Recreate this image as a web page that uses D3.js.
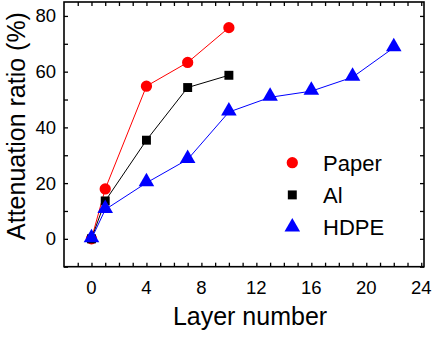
<!DOCTYPE html>
<html><head><meta charset="utf-8">
<script src="https://cdn.jsdelivr.net/npm/d3@7"></script>
<style>
body{margin:0;background:#fff;}
svg{display:block;font-family:"Liberation Sans",Arial,Helvetica,sans-serif;}
</style></head>
<body><svg id="c" width="436" height="337"></svg>
<script>
const paperX = [0, 1, 4, 7, 10];
const paperY = [0, 17.9, 54.8, 63.3, 75.8];
const alX = [0, 1, 4, 7, 10];
const alY = [0, 13.6, 35.4, 54.3, 58.7];
const hdpeX = [0, 1, 4, 7, 10, 13, 16, 19, 22];
const hdpeY = [0, 10.5, 20.1, 28.5, 45.5, 50.8, 53.0, 58.0, 68.6];
const xTickLabels = [0, 4, 8, 12, 16, 20, 24];
const yTickLabels = [0, 20, 40, 60, 80];
const legendNames = ["Paper", "Al", "HDPE"];

const svg = d3.select("#c");
const L = 64, R = 424, T = 2, B = 266.7;
const x = d3.scaleLinear().domain([-2, 24.2]).range([L, R]);
const y = d3.scaleLinear().domain([-10, 85]).range([B, T]);

const tickLen = 4;
const xTicks = d3.range(-1, 25, 1);
const yTicks = d3.range(-10, 81, 10);

const axB = d3.axisBottom(x).tickValues(xTicks).tickSize(-tickLen).tickFormat("");
const axT = d3.axisTop(x).tickValues(xTicks).tickSize(-tickLen).tickFormat("");
const axL = d3.axisLeft(y).tickValues(yTicks).tickSize(-tickLen).tickFormat("");
const axR = d3.axisRight(y).tickValues(yTicks).tickSize(-tickLen).tickFormat("");

function styleAx(g){ g.select(".domain").remove(); g.selectAll("line").attr("stroke","#000").attr("stroke-width",1.3); }
svg.append("g").attr("transform",`translate(0,${B})`).call(axB).call(styleAx);
svg.append("g").attr("transform",`translate(0,${T})`).call(axT).call(styleAx);
svg.append("g").attr("transform",`translate(${L},0)`).call(axL).call(styleAx);
svg.append("g").attr("transform",`translate(${R},0)`).call(axR).call(styleAx);

svg.append("rect").attr("x",L).attr("y",T).attr("width",R-L).attr("height",B-T)
  .attr("fill","none").attr("stroke","#000").attr("stroke-width",1.6);

svg.append("g").selectAll("text").data(xTickLabels).join("text")
  .attr("x",d=>x(d)).attr("y",B+27).attr("text-anchor","middle")
  .attr("font-size",18.5).text(d=>d);
svg.append("g").selectAll("text").data(yTickLabels).join("text")
  .attr("x",L-8).attr("y",d=>y(d)+6.5).attr("text-anchor","end")
  .attr("font-size",18.5).text(d=>d);

svg.append("text").attr("x",(L+R)/2+6).attr("y",325).attr("text-anchor","middle")
  .attr("font-size",25).text("Layer number");
svg.append("text").attr("transform",`translate(25,126) rotate(-90)`).attr("text-anchor","middle")
  .attr("font-size",25).text("Attenuation ratio (%)");

const series = [
  {xs: paperX, ys: paperY, color: "#ff0000", shape: d3.symbolCircle, size: 100},
  {xs: alX, ys: alY, color: "#000000", shape: d3.symbolSquare, size: 80},
  {xs: hdpeX, ys: hdpeY, color: "#0000ff", shape: d3.symbolTriangle, size: 105}
];
const line = d3.line().x(d=>x(d[0])).y(d=>y(d[1]));
series.forEach(s=>{
  const pts = s.xs.map((v,i)=>[v, s.ys[i]]);
  svg.append("path").datum(pts).attr("d",line).attr("fill","none")
    .attr("stroke",s.color).attr("stroke-width",1);
});
series.forEach(s=>{
  const pts = s.xs.map((v,i)=>[v, s.ys[i]]);
  const sym = d3.symbol().type(s.shape).size(s.size);
  svg.append("g").selectAll("path").data(pts).join("path")
    .attr("d",sym).attr("fill",s.color)
    .attr("transform",d=>`translate(${x(d[0])},${y(d[1]) + (s.shape===d3.symbolTriangle?-1:0)})`);
});

const lg = svg.append("g");
series.forEach((s,i)=>{
  const cy = 162.7 + i*32.2;
  lg.append("path").attr("d", d3.symbol().type(s.shape).size(s.size)())
    .attr("fill", s.color).attr("transform",`translate(292.3,${cy})`);
  lg.append("text").attr("x",323).attr("y",cy+8).attr("font-size",22).text(legendNames[i]);
});
</script></body></html>
